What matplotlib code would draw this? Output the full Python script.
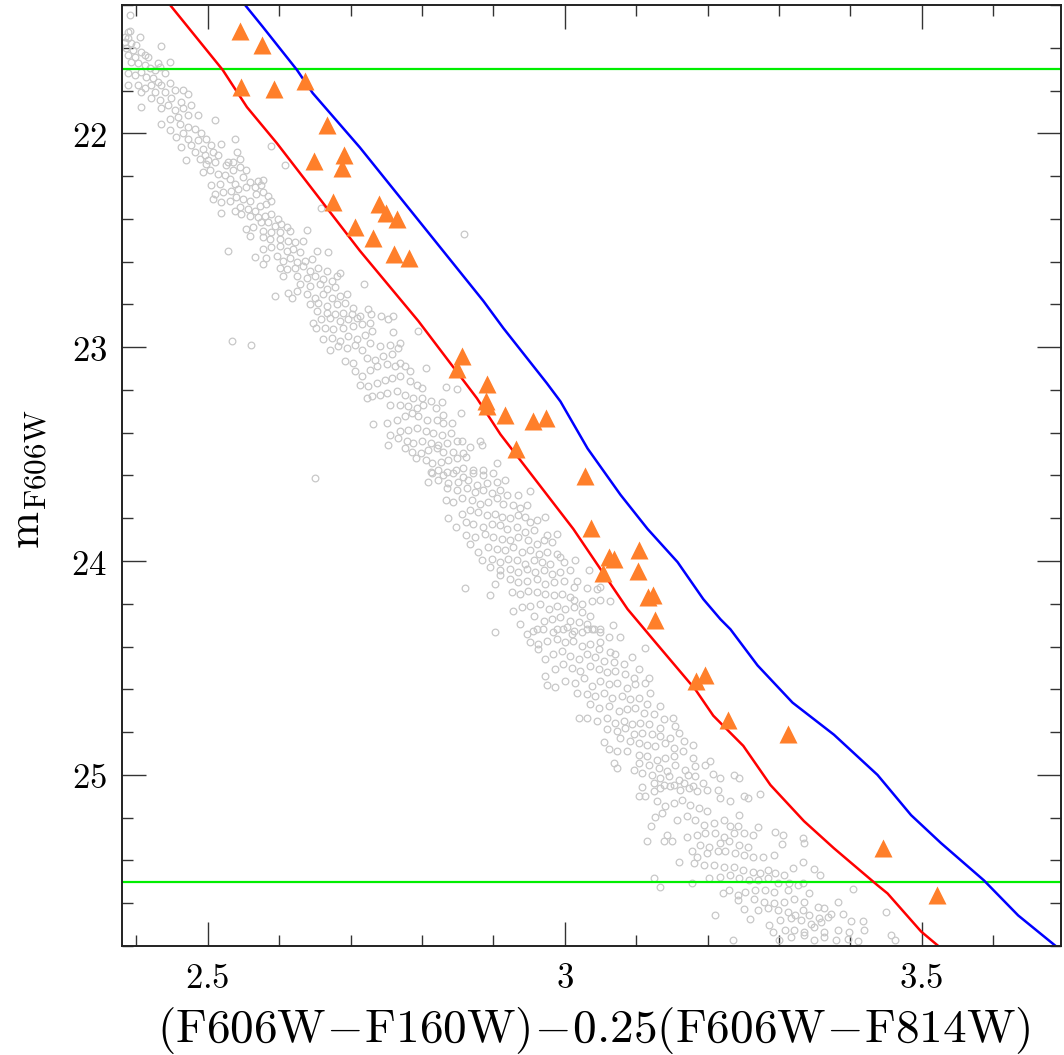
import numpy as np
import matplotlib.pyplot as plt
from matplotlib.ticker import MultipleLocator

#=======================================================
# Data
#=======================================================

# main-sequence stars (colour, magnitude), grouped by magnitude range
ms_bright = [
    (2.391, 21.449), (2.391, 21.521), (2.384, 21.548), (2.388, 21.556), (2.405, 21.548),
    (2.384, 21.571), (2.393, 21.579), (2.400, 21.587), (2.386, 21.602), (2.395, 21.610),
    (2.407, 21.618), (2.412, 21.634), (2.388, 21.634), (2.398, 21.642), (2.416, 21.642),
    (2.434, 21.590), (2.430, 21.673), (2.447, 21.665), (2.393, 21.665), (2.402, 21.673),
    (2.412, 21.681), (2.419, 21.693), (2.426, 21.704), (2.433, 21.689), (2.440, 21.720),
    (2.407, 21.712), (2.398, 21.728), (2.388, 21.720), (2.414, 21.735), (2.423, 21.743),
    (2.430, 21.759), (2.447, 21.767), (2.435, 21.775), (2.421, 21.775), (2.402, 21.775),
    (2.412, 21.790), (2.388, 21.775), (2.426, 21.806), (2.440, 21.806), (2.454, 21.798),
    (2.466, 21.798), (2.473, 21.814), (2.449, 21.837), (2.433, 21.845), (2.421, 21.837),
    (2.407, 21.806), (2.463, 21.853), (2.477, 21.868), (2.445, 21.868), (2.435, 21.884),
    (2.454, 21.892), (2.466, 21.884), (2.407, 21.879), (2.459, 21.923), (2.473, 21.915),
    (2.487, 21.915), (2.447, 21.931), (2.435, 21.955), (2.461, 21.955), (2.473, 21.970),
    (2.482, 21.978), (2.491, 22.001), (2.447, 21.986), (2.466, 22.001), (2.510, 21.936),
    (2.456, 22.017), (2.473, 22.025), (2.487, 22.033), (2.498, 22.025), (2.463, 22.064),
    (2.477, 22.056), (2.494, 22.072), (2.505, 22.056), (2.538, 22.025), (2.519, 22.048),
    (2.508, 22.088), (2.496, 22.103), (2.482, 22.088), (2.470, 22.127), (2.489, 22.119),
    (2.501, 22.127), (2.515, 22.103), (2.529, 22.135), (2.541, 22.088), (2.545, 22.119),
    (2.589, 22.061), (2.388, 21.526),
]

ms_upper = [
    (2.498, 22.143), (2.510, 22.135), (2.526, 22.150), (2.536, 22.135), (2.493, 22.182),
    (2.503, 22.174), (2.515, 22.189), (2.524, 22.197), (2.536, 22.174), (2.545, 22.158),
    (2.554, 22.171), (2.608, 22.150), (2.505, 22.244), (2.517, 22.236), (2.531, 22.213),
    (2.538, 22.236), (2.550, 22.205), (2.559, 22.229), (2.571, 22.221), (2.578, 22.218),
    (2.510, 22.283), (2.522, 22.275), (2.533, 22.268), (2.543, 22.260), (2.554, 22.252),
    (2.566, 22.252), (2.575, 22.244), (2.585, 22.291), (2.508, 22.307), (2.519, 22.322),
    (2.531, 22.315), (2.540, 22.299), (2.550, 22.307), (2.559, 22.315), (2.568, 22.283),
    (2.578, 22.275), (2.545, 22.346), (2.557, 22.354), (2.566, 22.362), (2.573, 22.338),
    (2.582, 22.330), (2.589, 22.315), (2.519, 22.372), (2.538, 22.362), (2.547, 22.377),
    (2.559, 22.385), (2.571, 22.393), (2.580, 22.385), (2.589, 22.377), (2.599, 22.401),
    (2.575, 22.416), (2.585, 22.416), (2.594, 22.432), (2.603, 22.424), (2.611, 22.440),
    (2.554, 22.448), (2.564, 22.440), (2.578, 22.455), (2.589, 22.463), (2.601, 22.463),
    (2.615, 22.455), (2.639, 22.452), (2.559, 22.479), (2.578, 22.487), (2.587, 22.495),
    (2.601, 22.495), (2.613, 22.502), (2.622, 22.510), (2.634, 22.502), (2.578, 22.541),
    (2.589, 22.534), (2.601, 22.526), (2.611, 22.549), (2.620, 22.541), (2.629, 22.557),
    (2.653, 22.552), (2.669, 22.557), (2.528, 22.549), (2.566, 22.577), (2.582, 22.581),
    (2.597, 22.573), (2.606, 22.596), (2.615, 22.581), (2.625, 22.604), (2.636, 22.596),
    (2.646, 22.589), (2.578, 22.612), (2.601, 22.628), (2.611, 22.636), (2.622, 22.628),
    (2.634, 22.620), (2.643, 22.643), (2.655, 22.628), (2.667, 22.643), (2.685, 22.654),
    (2.606, 22.667), (2.625, 22.667), (2.639, 22.675), (2.650, 22.667), (2.662, 22.682),
    (2.674, 22.690), (2.681, 22.667), (2.629, 22.706), (2.643, 22.714), (2.657, 22.706),
    (2.667, 22.729), (2.678, 22.721), (2.625, 22.737), (2.613, 22.745), (2.594, 22.761),
    (2.639, 22.753), (2.650, 22.768), (2.662, 22.753), (2.674, 22.768), (2.685, 22.761),
    (2.695, 22.753), (2.618, 22.768), (2.643, 22.800), (2.655, 22.792), (2.667, 22.807),
    (2.681, 22.800), (2.692, 22.792), (2.704, 22.815), (2.653, 22.831), (2.667, 22.839),
    (2.678, 22.847), (2.690, 22.839), (2.702, 22.847), (2.713, 22.854), (2.725, 22.823),
    (2.728, 22.847), (2.742, 22.854), (2.759, 22.854), (2.719, 22.703), (2.659, 22.349),
    (2.859, 22.471), (2.534, 22.972), (2.560, 22.991),
]

ms_middle = [
    (2.648, 22.886), (2.659, 22.870), (2.671, 22.862), (2.685, 22.878), (2.697, 22.870),
    (2.709, 22.862), (2.727, 22.886), (2.753, 22.867), (2.652, 22.909), (2.664, 22.909),
    (2.676, 22.917), (2.690, 22.909), (2.704, 22.901), (2.716, 22.894), (2.730, 22.925),
    (2.760, 22.930), (2.795, 22.925), (2.662, 22.964), (2.674, 22.956), (2.685, 22.972),
    (2.697, 22.948), (2.709, 22.964), (2.720, 22.941), (2.671, 23.011), (2.683, 22.995),
    (2.695, 23.003), (2.706, 22.988), (2.716, 23.011), (2.727, 22.980), (2.741, 22.995),
    (2.755, 22.988), (2.767, 23.003), (2.769, 22.980), (2.692, 23.066), (2.704, 23.074),
    (2.723, 23.050), (2.734, 23.058), (2.746, 23.042), (2.758, 23.034), (2.769, 23.074),
    (2.706, 23.113), (2.716, 23.136), (2.727, 23.105), (2.737, 23.089), (2.751, 23.081),
    (2.762, 23.089), (2.776, 23.089), (2.783, 23.113), (2.805, 23.097), (2.713, 23.175),
    (2.725, 23.183), (2.737, 23.167), (2.748, 23.152), (2.758, 23.144), (2.769, 23.136),
    (2.783, 23.160), (2.793, 23.175), (2.800, 23.191), (2.833, 23.188), (2.849, 23.196),
    (2.730, 23.230), (2.741, 23.222), (2.751, 23.214), (2.765, 23.207), (2.776, 23.222),
    (2.788, 23.238), (2.800, 23.238), (2.812, 23.254), (2.828, 23.258), (2.723, 23.238),
    (2.755, 23.269), (2.769, 23.269), (2.781, 23.277), (2.793, 23.285), (2.802, 23.269),
    (2.819, 23.285), (2.830, 23.316), (2.842, 23.355), (2.854, 23.308), (2.732, 23.358),
    (2.751, 23.355), (2.765, 23.340), (2.776, 23.324), (2.786, 23.308), (2.795, 23.324),
    (2.807, 23.340), (2.821, 23.340), (2.830, 23.355), (2.755, 23.410), (2.769, 23.394),
    (2.781, 23.387), (2.793, 23.379), (2.805, 23.394), (2.816, 23.402), (2.828, 23.410),
    (2.840, 23.402), (2.767, 23.426), (2.779, 23.441), (2.788, 23.449), (2.800, 23.441),
    (2.812, 23.449), (2.823, 23.457), (2.835, 23.449), (2.849, 23.441), (2.856, 23.437),
    (2.882, 23.441), (2.753, 23.457), (2.776, 23.473), (2.786, 23.488), (2.798, 23.496),
    (2.809, 23.481), (2.821, 23.473), (2.830, 23.488), (2.844, 23.488), (2.858, 23.496),
    (2.868, 23.465), (2.791, 23.520), (2.805, 23.527), (2.814, 23.543), (2.826, 23.535),
    (2.837, 23.527), (2.849, 23.520), (2.861, 23.512), (2.884, 23.457), (2.812, 23.582),
    (2.823, 23.574), (2.835, 23.582), (2.847, 23.574), (2.858, 23.567), (2.872, 23.574),
    (2.886, 23.574), (2.905, 23.543), (2.650, 23.610),
]

ms_lower = [
    (2.814, 23.590), (2.830, 23.598), (2.844, 23.590), (2.858, 23.606), (2.872, 23.590),
    (2.886, 23.598), (2.900, 23.590), (2.809, 23.629), (2.823, 23.621), (2.837, 23.637),
    (2.851, 23.629), (2.865, 23.621), (2.877, 23.645), (2.891, 23.637), (2.905, 23.629),
    (2.917, 23.621), (2.835, 23.660), (2.849, 23.668), (2.863, 23.660), (2.875, 23.676),
    (2.886, 23.668), (2.898, 23.684), (2.910, 23.668), (2.919, 23.692), (2.935, 23.692),
    (2.952, 23.671), (2.833, 23.715), (2.844, 23.723), (2.856, 23.707), (2.870, 23.715),
    (2.882, 23.731), (2.893, 23.723), (2.905, 23.707), (2.914, 23.731), (2.928, 23.739),
    (2.938, 23.754), (2.947, 23.739), (2.837, 23.801), (2.856, 23.778), (2.868, 23.762),
    (2.879, 23.770), (2.891, 23.786), (2.903, 23.778), (2.912, 23.793), (2.924, 23.801),
    (2.935, 23.786), (2.945, 23.793), (2.952, 23.817), (2.961, 23.809), (2.973, 23.793),
    (2.847, 23.840), (2.861, 23.817), (2.872, 23.825), (2.886, 23.840), (2.898, 23.825),
    (2.910, 23.833), (2.919, 23.848), (2.933, 23.840), (2.945, 23.864), (2.957, 23.856),
    (2.975, 23.880), (2.989, 23.875), (2.861, 23.880), (2.875, 23.887), (2.889, 23.872),
    (2.900, 23.887), (2.912, 23.895), (2.924, 23.903), (2.935, 23.887), (2.949, 23.903),
    (2.961, 23.919), (2.971, 23.903), (2.982, 23.911), (2.868, 23.919), (2.879, 23.958),
    (2.893, 23.934), (2.905, 23.942), (2.917, 23.950), (2.928, 23.934), (2.940, 23.958),
    (2.952, 23.950), (2.964, 23.966), (2.975, 23.958), (2.989, 23.966), (2.994, 23.981),
    (2.884, 23.997), (2.898, 23.989), (2.910, 24.005), (2.921, 23.989), (2.933, 23.997),
    (2.945, 24.013), (2.957, 23.997), (2.968, 24.005), (2.980, 24.013), (2.999, 24.005),
    (3.015, 23.997), (2.896, 24.028), (2.910, 24.044), (2.924, 24.036), (2.935, 24.052),
    (2.947, 24.036), (2.959, 24.052), (2.971, 24.044), (2.982, 24.060), (2.994, 24.052),
    (3.008, 24.044), (3.034, 24.044), (3.017, 24.091), (2.910, 24.067), (2.924, 24.083),
    (2.935, 24.099), (2.947, 24.091), (2.961, 24.083), (2.973, 24.106), (2.985, 24.099),
    (2.999, 24.091), (3.013, 24.122), (3.031, 24.127), (3.045, 24.133), (3.050, 24.122),
    (2.860, 24.127), (2.896, 24.158), (2.903, 24.106), (2.926, 24.146), (2.938, 24.153),
    (2.949, 24.138), (2.961, 24.146), (2.973, 24.153), (2.985, 24.161), (2.996, 24.153),
    (3.008, 24.169), (3.013, 24.182), (3.024, 24.200), (3.038, 24.185), (3.049, 24.182),
    (3.064, 24.189), (2.928, 24.232), (2.940, 24.216), (2.952, 24.208), (2.966, 24.200),
    (2.978, 24.224), (2.989, 24.208), (3.001, 24.224), (3.013, 24.216), (3.024, 24.239),
    (3.036, 24.255), (2.957, 24.255), (2.971, 24.279), (2.982, 24.271), (2.994, 24.263),
    (3.008, 24.279), (3.020, 24.286), (3.031, 24.294), (3.050, 24.318), (3.067, 24.297),
    (2.938, 24.294), (2.903, 24.330), (2.989, 24.318), (3.003, 24.310), (3.013, 24.326),
    (3.031, 24.318), (3.041, 24.318),
]

ms_faint = [
    (2.947, 24.341), (2.956, 24.326), (2.970, 24.318), (2.984, 24.333), (2.998, 24.318),
    (3.010, 24.341), (3.024, 24.333), (3.038, 24.318), (3.050, 24.333), (3.062, 24.357),
    (3.078, 24.357), (2.952, 24.380), (2.963, 24.388), (2.975, 24.373), (2.989, 24.365),
    (3.001, 24.380), (3.012, 24.373), (3.024, 24.396), (3.036, 24.388), (3.050, 24.380),
    (3.064, 24.427), (3.071, 24.435), (3.112, 24.407), (2.963, 24.412), (2.973, 24.459),
    (2.984, 24.435), (2.996, 24.419), (3.008, 24.443), (3.020, 24.459), (3.031, 24.435),
    (3.043, 24.451), (3.055, 24.466), (3.069, 24.474), (3.083, 24.482), (3.094, 24.451),
    (3.104, 24.505), (2.973, 24.537), (2.987, 24.505), (2.998, 24.482), (3.010, 24.498),
    (3.022, 24.513), (3.036, 24.490), (3.048, 24.505), (3.059, 24.521), (3.071, 24.513),
    (3.085, 24.529), (3.097, 24.545), (3.118, 24.545), (2.975, 24.579), (2.987, 24.588),
    (3.001, 24.560), (3.015, 24.568), (3.027, 24.545), (3.038, 24.584), (3.050, 24.560),
    (3.062, 24.576), (3.073, 24.568), (3.087, 24.592), (3.099, 24.576), (3.113, 24.568),
    (3.120, 24.615), (3.017, 24.615), (3.031, 24.623), (3.043, 24.631), (3.055, 24.615),
    (3.066, 24.639), (3.080, 24.631), (3.092, 24.646), (3.104, 24.639), (3.115, 24.670),
    (3.134, 24.678), (3.036, 24.670), (3.048, 24.685), (3.062, 24.678), (3.076, 24.701),
    (3.087, 24.693), (3.099, 24.685), (3.111, 24.709), (3.125, 24.717), (3.139, 24.740),
    (3.151, 24.732), (3.020, 24.736), (3.031, 24.732), (3.045, 24.748), (3.059, 24.732),
    (3.071, 24.756), (3.083, 24.748), (3.094, 24.764), (3.106, 24.756), (3.118, 24.764),
    (3.134, 24.779), (3.155, 24.772), (3.059, 24.787), (3.073, 24.795), (3.085, 24.779),
    (3.097, 24.811), (3.108, 24.803), (3.122, 24.811), (3.134, 24.819), (3.148, 24.826),
    (3.160, 24.803), (3.055, 24.845), (3.078, 24.826), (3.092, 24.842), (3.104, 24.850),
    (3.115, 24.858), (3.127, 24.865), (3.141, 24.850), (3.153, 24.873), (3.167, 24.842),
    (3.179, 24.858), (3.062, 24.881), (3.073, 24.889), (3.087, 24.886), (3.104, 24.905),
    (3.115, 24.912), (3.129, 24.928), (3.141, 24.920), (3.153, 24.912), (3.165, 24.889),
    (3.179, 24.920), (3.069, 24.944), (3.104, 24.944), (3.118, 24.952), (3.132, 24.967),
    (3.143, 24.983), (3.155, 24.952), (3.169, 24.975), (3.183, 24.959), (3.197, 24.952),
    (3.204, 24.936), (3.097, 24.975), (3.108, 24.991), (3.122, 24.999), (3.134, 25.014),
    (3.146, 25.006), (3.160, 25.022), (3.172, 24.999), (3.183, 25.006), (3.193, 25.038),
    (3.207, 24.995), (3.218, 25.014), (3.237, 24.999), (3.244, 25.014), (3.125, 25.038),
    (3.139, 25.045), (3.153, 25.045), (3.167, 25.038), (3.179, 25.053), (3.073, 24.967),
    (2.961, 24.318), (3.048, 24.412),
]

ms_bottom = [
    (3.104, 25.100), (3.113, 25.100), (3.108, 25.056), (3.125, 25.077), (3.134, 25.061),
    (3.148, 25.053), (3.162, 25.069), (3.174, 25.061), (3.185, 25.077), (3.199, 25.069),
    (3.214, 25.069), (3.218, 25.108), (3.232, 25.124), (3.251, 25.100), (3.256, 25.108),
    (3.273, 25.088), (3.129, 25.124), (3.141, 25.147), (3.153, 25.132), (3.164, 25.116),
    (3.176, 25.139), (3.188, 25.155), (3.199, 25.171), (3.136, 25.178), (3.127, 25.197),
    (3.157, 25.210), (3.171, 25.194), (3.183, 25.210), (3.195, 25.233), (3.209, 25.225),
    (3.223, 25.210), (3.232, 25.241), (3.244, 25.186), (3.242, 25.241), (3.121, 25.238),
    (3.115, 25.307), (3.143, 25.280), (3.139, 25.311), (3.150, 25.311), (3.171, 25.288),
    (3.185, 25.280), (3.197, 25.272), (3.211, 25.272), (3.223, 25.288), (3.237, 25.272),
    (3.251, 25.272), (3.263, 25.280), (3.270, 25.244), (3.295, 25.265), (3.305, 25.280),
    (3.304, 25.322), (3.333, 25.293), (3.335, 25.316), (3.178, 25.358), (3.190, 25.327),
    (3.202, 25.335), (3.218, 25.319), (3.230, 25.311), (3.244, 25.327), (3.256, 25.335),
    (3.185, 25.382), (3.199, 25.366), (3.214, 25.358), (3.225, 25.358), (3.239, 25.366),
    (3.251, 25.374), (3.263, 25.382), (3.277, 25.382), (3.293, 25.374), (3.160, 25.405),
    (3.181, 25.413), (3.195, 25.421), (3.209, 25.421), (3.223, 25.429), (3.237, 25.429),
    (3.249, 25.444), (3.263, 25.452), (3.274, 25.460), (3.284, 25.444), (3.295, 25.460),
    (3.307, 25.468), (3.319, 25.437), (3.333, 25.405), (3.349, 25.441), (3.358, 25.470),
    (3.125, 25.484), (3.178, 25.504), (3.202, 25.484), (3.218, 25.476), (3.232, 25.468),
    (3.244, 25.484), (3.258, 25.491), (3.270, 25.491), (3.284, 25.484), (3.298, 25.507),
    (3.314, 25.507), (3.326, 25.515), (3.333, 25.504), (3.134, 25.523), (3.221, 25.551),
    (3.230, 25.538), (3.242, 25.562), (3.253, 25.546), (3.267, 25.538), (3.281, 25.538),
    (3.293, 25.546), (3.312, 25.538), (3.342, 25.551), (3.403, 25.535), (3.242, 25.585),
    (3.265, 25.578), (3.279, 25.593), (3.293, 25.601), (3.307, 25.593), (3.321, 25.578),
    (3.335, 25.593), (3.354, 25.617), (3.363, 25.624), (3.382, 25.593), (3.251, 25.629),
    (3.270, 25.632), (3.284, 25.624), (3.298, 25.632), (3.312, 25.640), (3.323, 25.656),
    (3.333, 25.632), (3.342, 25.656), (3.356, 25.671), (3.373, 25.648), (3.389, 25.648),
    (3.401, 25.682), (3.417, 25.682), (3.211, 25.656), (3.260, 25.676), (3.286, 25.703),
    (3.302, 25.679), (3.317, 25.671), (3.331, 25.679), (3.345, 25.695), (3.359, 25.687),
    (3.368, 25.664), (3.291, 25.734), (3.309, 25.726), (3.321, 25.726), (3.335, 25.734),
    (3.349, 25.711), (3.363, 25.734), (3.382, 25.726), (3.398, 25.734), (3.419, 25.726),
    (3.235, 25.773), (3.300, 25.773), (3.317, 25.757), (3.335, 25.750), (3.349, 25.773),
    (3.363, 25.757), (3.380, 25.773), (3.396, 25.765), (3.410, 25.776), (3.457, 25.750),
    (3.462, 25.773), (3.450, 25.640),
]

# candidate stars
tri_color = [2.545, 2.576, 2.546, 2.593, 2.636, 2.667, 2.649, 2.691, 2.688, 2.675,
             2.706, 2.740, 2.750, 2.765, 2.731, 2.761, 2.782, 2.856, 2.849, 2.891,
             2.890, 2.891, 2.917, 2.956, 2.974, 2.932, 3.029, 3.037, 3.062, 3.069,
             3.054, 3.104, 3.103, 3.116, 3.123, 3.126, 3.184, 3.196, 3.229, 3.313,
             3.445, 3.522]
tri_mag = [21.521, 21.587, 21.784, 21.793, 21.756, 21.962, 22.131, 22.103, 22.164, 22.319,
           22.437, 22.329, 22.371, 22.399, 22.488, 22.563, 22.582, 23.042, 23.103, 23.174,
           23.254, 23.277, 23.319, 23.343, 23.333, 23.474, 23.601, 23.845, 23.981, 23.991,
           24.056, 23.948, 24.047, 24.169, 24.160, 24.277, 24.563, 24.531, 24.742, 24.808,
           25.343, 25.563]

# fiducial lines
red_color = [2.447, 2.521, 2.555, 2.597, 2.713, 2.795, 2.877, 2.910, 3.012, 3.088,
             3.127, 3.183, 3.208, 3.250, 3.288, 3.335, 3.377, 3.438, 3.452, 3.499, 3.531]
red_mag = [21.399, 21.704, 21.878, 22.047, 22.549, 22.878, 23.239, 23.408, 23.850, 24.225,
           24.380, 24.601, 24.723, 24.864, 25.047, 25.216, 25.343, 25.516, 25.554, 25.732, 25.822]

blue_color = [2.552, 2.577, 2.625, 2.647, 2.713, 2.886, 2.914, 2.975, 2.994, 3.032,
              3.078, 3.116, 3.158, 3.194, 3.218, 3.232, 3.270, 3.319, 3.377, 3.438,
              3.485, 3.527, 3.587, 3.635, 3.692]
blue_mag = [21.399, 21.502, 21.704, 21.812, 22.066, 22.784, 22.911, 23.169, 23.254, 23.474,
            23.690, 23.850, 24.005, 24.178, 24.272, 24.319, 24.488, 24.662, 24.812, 25.000,
            25.188, 25.319, 25.493, 25.657, 25.812]

mag_limits = [21.7, 25.5]

xticks = [2.5, 3.0, 3.5]
xtick_labels = ['2.5', '3', '3.5']
yticks = [22, 23, 24, 25]
ytick_labels = ['22', '23', '24', '25']

#=======================================================
# Plot
#=======================================================

plt.rcParams['mathtext.fontset'] = 'cm'

fig = plt.figure(figsize=(10.64, 10.55), dpi=100)
ax = fig.add_axes([0.1147, 0.1033, 0.8825, 0.8920])

for seg in (ms_bright, ms_upper, ms_middle, ms_lower, ms_faint, ms_bottom):
    c, m = np.array(seg).T
    ax.plot(c, m, 'o', ms=4.8, mfc='none', mec='#c8c8c8', mew=0.9)

for lim in mag_limits:
    ax.axhline(lim, color='#00ee00', lw=1.6)

ax.plot(red_color, red_mag, color='#ff0000', lw=1.8)
ax.plot(blue_color, blue_mag, color='#0000ff', lw=1.8)
ax.plot(tri_color, tri_mag, '^', ms=13, color='#ff7f2a', mec='none')

ax.set_xlim(2.38, 3.695)
ax.set_ylim(25.8, 21.4)

ax.set_xticks(xticks)
ax.set_xticklabels(['$%s$' % s for s in xtick_labels])
ax.set_yticks(yticks)
ax.set_yticklabels(['$%s$' % s for s in ytick_labels])
ax.xaxis.set_minor_locator(MultipleLocator(0.1))
ax.yaxis.set_minor_locator(MultipleLocator(0.2))
ax.tick_params(which='both', direction='in', top=True, right=True,
               color='#333333', width=1.0, labelsize=25)
ax.tick_params(which='major', length=17)
ax.tick_params(which='minor', length=8)
ax.tick_params(axis='x', pad=11)
ax.tick_params(axis='y', pad=11)
for sp in ax.spines.values():
    sp.set_linewidth(1.4)
    sp.set_color('#222222')

fig.text(0.558, 1 - 1030/1055,
         r'$\mathrm{(F606W\!-\!F160W)\!-\!0.25(F606W\!-\!F814W)}$',
         ha='center', va='center', fontsize=34)
fig.text(0.027, 1 - 479/1055, r'$\mathrm{m_{F606W}}$',
         ha='center', va='center', rotation=90, fontsize=32)

plt.savefig('out.png', dpi=100)
